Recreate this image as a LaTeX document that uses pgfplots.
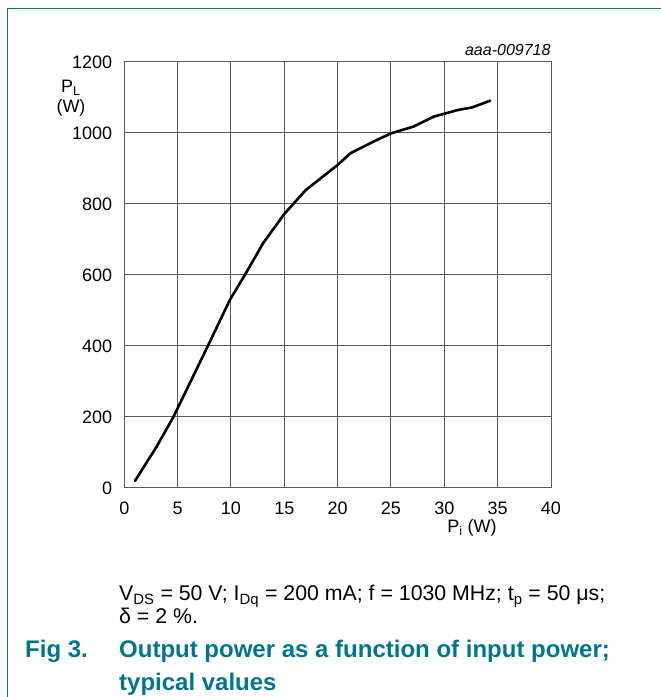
\documentclass[border=0pt]{standalone}
\usepackage{fontspec}
\setmainfont{Liberation Sans}
\usepackage{pgfplots}
\pgfplotsset{compat=1.18}
\definecolor{nxpteal}{RGB}{0,118,142}
\begin{document}
\begin{tikzpicture}[x=1pt,y=1pt]
\useasboundingbox (0,0) rectangle (661,697);
\draw[nxpteal, line width=1.5pt] (7.3,0) -- (7.3,688.3) -- (661,688.3);
\begin{axis}[
  at={(124.3pt,209pt)}, anchor=south west, scale only axis,
  width=426.7pt, height=426pt,
  xmin=0, xmax=40, ymin=0, ymax=1200,
  xtick={0,5,...,40}, ytick={0,200,...,1200},
  grid=major, major grid style={black!65, line width=1pt},
  axis line style={black!65, line width=1pt},
  major tick length=0pt,
  tick label style={font=\fontsize{18}{21}\selectfont},
  /pgf/number format/assume math mode=true,
  /pgf/number format/1000 sep={},
  yticklabel style={anchor=east, inner sep=0pt, xshift=-12pt},
  xticklabel style={anchor=north, inner sep=0pt, yshift=-14pt},
]
\addplot[black, line width=2.6pt, line join=round, line cap=round] coordinates {
(1,20) (3,115) (4.6,200) (7.8,398) (9.9,530) (11.3,600) (13,689) (15,772)
(17,839) (20,910) (21.2,943) (23.3,975) (25,999) (27.1,1018) (29,1046)
(31.3,1065) (32.6,1072) (34.3,1091)
};
\end{axis}
\node[anchor=base, inner sep=0pt, font=\fontsize{18}{21}\selectfont] at (71,604) {P\textsubscript{L}};
\node[anchor=base, inner sep=0pt, font=\fontsize{18}{21}\selectfont] at (71,584) {(W)};
\node[anchor=base, inner sep=0pt, font=\fontsize{18}{21}\selectfont] at (472,164.5) {P\textsubscript{i} (W)};
\node[anchor=base east, inner sep=0pt, font=\fontsize{16}{19}\selectfont\itshape] at (550.7,641) {aaa-009718};
\node[anchor=base west, inner sep=0pt, font=\fontsize{21.3}{24}\selectfont] at (119,96) {V\textsubscript{DS} = 50 V; I\textsubscript{Dq} = 200 mA; f = 1030 MHz; t\textsubscript{p} = 50 μs;};
\node[anchor=base west, inner sep=0pt, font=\fontsize{21.3}{24}\selectfont] at (119,73) {δ = 2 \%.};
\node[anchor=base west, inner sep=0pt, font=\fontsize{24}{28}\selectfont\bfseries, text=nxpteal] at (25,39) {Fig 3.};
\node[anchor=base west, inner sep=0pt, font=\fontsize{24}{28}\selectfont\bfseries, text=nxpteal] at (119,39) {Output power as a function of input power;};
\node[anchor=base west, inner sep=0pt, font=\fontsize{24}{28}\selectfont\bfseries, text=nxpteal] at (119,6.5) {typical values};
\end{tikzpicture}
\end{document}
